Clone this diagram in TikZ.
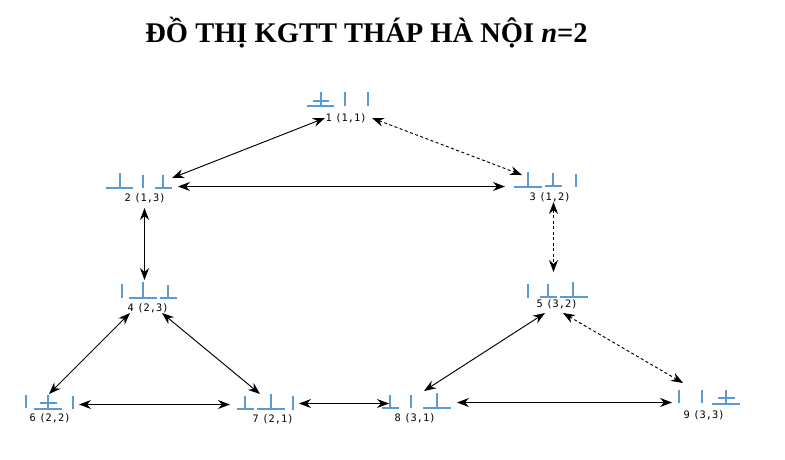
\documentclass[tikz,border=0pt]{standalone}
\usepackage{fontspec}
\setmainfont{Liberation Serif}
\newfontfamily\labelfont[WordSpace=0.6]{DejaVu Sans Mono}
\usetikzlibrary{arrows.meta}
\definecolor{towerblue}{HTML}{5B9BD5}
\tikzset{
  rod/.style={draw=towerblue,line width=2.7pt},
  statelabel/.style={inner sep=0pt,font=\labelfont\fontsize{10.3}{12}\selectfont},
  move/.style={<->,line width=0.95pt},
  dashmove/.style={<->,line width=0.95pt,dash pattern=on 3pt off 2.5pt}
}
\newcommand{\peg}[3]{\draw[rod] (#1,#2) -- (#1,#3);}
\newcommand{\disc}[3]{\draw[rod] (#1,#3) -- (#2,#3);}
\begin{document}
\begin{tikzpicture}[x=1pt,y=-1pt,every path/.style={>={Stealth[length=12pt,width=9pt,inset=4pt]}}]
\useasboundingbox (0,0) rectangle (785,459);
\node[anchor=base,inner sep=0pt,font=\fontsize{28.5}{32}\selectfont\bfseries] (title) at (366.5,42) {ĐỒ THỊ KGTT THÁP HÀ NỘI \textit{n}=2};
% state 1
\disc{307}{334}{106} \disc{313}{329}{101} \peg{321}{92}{106} \peg{345}{92}{106} \peg{368}{92}{106}
% state 2
\disc{106}{133}{188} \peg{120}{173}{188} \peg{143}{175}{188} \disc{155}{172}{188} \peg{163}{175}{188}
% state 3
\disc{514}{542}{187} \peg{528}{172}{187} \disc{545}{562}{186} \peg{553}{173}{186} \peg{576}{174}{187}
% state 4
\peg{122}{284}{298} \disc{129}{157}{298} \peg{143}{282}{298} \disc{160}{177}{298} \peg{168}{285}{298}
% state 5
\peg{528}{284}{298} \disc{540}{557}{297} \peg{548}{284}{297} \disc{560}{588}{297} \peg{573}{282}{297}
% state 6
\peg{26}{395}{408} \disc{34}{62}{409} \disc{40}{57}{403} \peg{48}{395}{409} \peg{73}{396}{409}
% state 7
\disc{237}{254}{409} \peg{245}{396}{409} \disc{257}{285}{409} \peg{271}{394}{409} \peg{293}{396}{410}
% state 8
\disc{382}{399}{408} \peg{390}{395}{408} \peg{411}{395}{408} \disc{423}{451}{408} \peg{437}{393}{408}
% state 9
\peg{679}{390}{403} \peg{702}{390}{403} \disc{712}{740}{404} \disc{718}{735}{398} \peg{726}{390}{404}
% labels
\node[statelabel] (s1) at (346,118) {1 (1,1)};
\node[statelabel] (s2) at (145,198) {2 (1,3)};
\node[statelabel] (s3) at (550,197) {3 (1,2)};
\node[statelabel] (s4) at (148,308) {4 (2,3)};
\node[statelabel] (s5) at (557,304) {5 (3,2)};
\node[statelabel] (s6) at (50,418)  {6 (2,2)};
\node[statelabel] (s7) at (273,419) {7 (2,1)};
\node[statelabel] (s8) at (415,418) {8 (3,1)};
\node[statelabel] (s9) at (704,415) {9 (3,3)};
% connector ends
\coordinate (s1w) at (325,118);
\coordinate (s1e) at (372,118);
\coordinate (s2n) at (172,178);
\coordinate (s2e) at (178,186.5);
\coordinate (s2s) at (144.5,208);
\coordinate (s3n) at (522,175);
\coordinate (s3w) at (505,186.5);
\coordinate (s3s) at (553.5,202);
\coordinate (s4n) at (144.5,280);
\coordinate (s4w) at (130,313);
\coordinate (s4e) at (162,313);
\coordinate (s5n) at (553.5,272);
\coordinate (s5w) at (545,313);
\coordinate (s5e) at (563,313);
\coordinate (s6n) at (49,394);
\coordinate (s6e) at (79,404.5);
\coordinate (s7n) at (260,394);
\coordinate (s7w) at (230,404.5);
\coordinate (s7e) at (299,403.5);
\coordinate (s8w) at (389,403.5);
\coordinate (s8n) at (424,391);
\coordinate (s8e) at (457,402.5);
\coordinate (s9w) at (672,402.5);
\coordinate (s9n) at (683,383);
% moves
\draw[move]     (s1w) -- (s2n);
\draw[dashmove] (s1e) -- (s3n);
\draw[move]     (s2e) -- (s3w);
\draw[move]     (s2s) -- (s4n);
\draw[dashmove] (s3s) -- (s5n);
\draw[move]     (s4w) -- (s6n);
\draw[move]     (s4e) -- (s7n);
\draw[move]     (s5w) -- (s8n);
\draw[dashmove] (s5e) -- (s9n);
\draw[move]     (s6e) -- (s7w);
\draw[move]     (s7e) -- (s8w);
\draw[move]     (s8e) -- (s9w);
\end{tikzpicture}
\end{document}
